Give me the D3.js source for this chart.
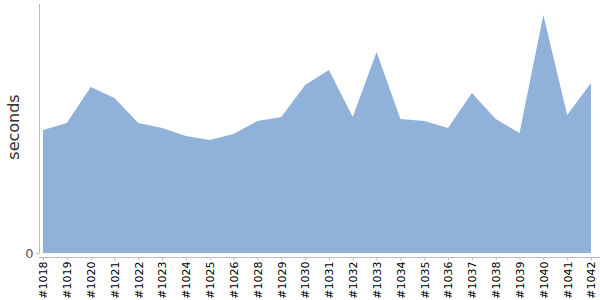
<!DOCTYPE html>
<html><head><meta charset="utf-8">
<script src="https://cdn.jsdelivr.net/npm/d3@7"></script>
<style>body{margin:0;background:#fff}svg{display:block}text{font-family:"DejaVu Sans",Verdana,sans-serif}</style>
</head><body>
<svg id="c" width="600" height="300"></svg>
<script>
const builds = ["#1018","#1019","#1020","#1021","#1022","#1023","#1024","#1025","#1026","#1028","#1029","#1030","#1031","#1032","#1033","#1034","#1035","#1036","#1037","#1038","#1039","#1040","#1041","#1042"];
const seconds = [49.6,52.4,66.9,62.5,52.4,50.4,47.2,45.6,48.0,53.2,54.8,67.7,73.8,54.8,81.0,54.0,53.2,50.4,64.5,54.0,48.4,96.0,55.6,68.5];
const yTicks = [0];
const yLabel = "seconds";

const svg = d3.select("#c");
const x = d3.scalePoint().domain(builds).range([43, 591]);
const y = d3.scaleLinear().domain([0, 100]).range([253, 5]);

const area = d3.area().x((d,i)=>x(builds[i])).y0(y(0)).y1(d=>y(d));
svg.append("path").datum(seconds).attr("d", area).attr("fill", "#8fb1da");

// y axis
const ya = svg.append("g").attr("transform","translate(39.5,0)")
  .call(d3.axisLeft(y).tickValues(yTicks).tickSize(3).tickPadding(3).tickFormat(d3.format("d")));
ya.attr("font-family", null);
ya.select(".domain").attr("d","M0,4V253").attr("stroke","#bbb");
ya.selectAll(".tick line").attr("stroke","#bbb");
ya.selectAll(".tick text").attr("font-size",13).attr("fill","#555");

// x axis
const xa = svg.append("g").attr("transform","translate(0,257.5)")
  .call(d3.axisBottom(x).tickSize(3).tickPadding(4));
xa.attr("font-family", null);
xa.select(".domain").attr("d","M39,0H600").attr("stroke","#bbb");
xa.selectAll(".tick line").attr("stroke","#bbb");
xa.selectAll(".tick text")
  .attr("font-size",11).attr("fill","#000")
  .attr("transform","rotate(-90)").attr("text-anchor","end")
  .attr("x",-4).attr("y",0).attr("dy","0.35em");

svg.append("text").attr("transform","translate(19,127) rotate(-90)")
  .attr("text-anchor","middle")
  .attr("font-size",16).attr("fill","#333").text(yLabel);
</script>
</body></html>
